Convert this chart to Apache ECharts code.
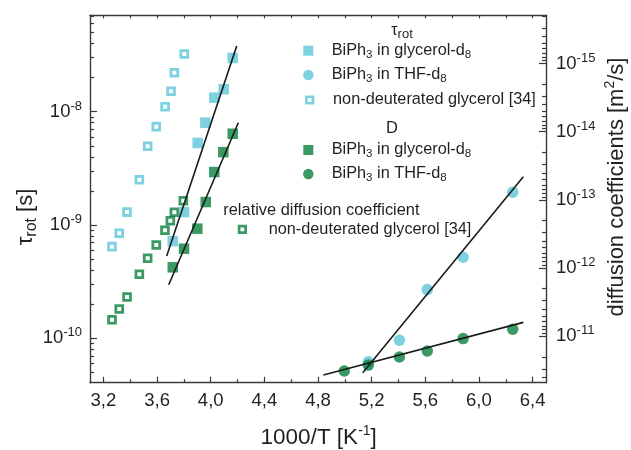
<!DOCTYPE html>
<html>
<head>
<meta charset="utf-8">
<script src="https://cdn.jsdelivr.net/npm/echarts@6/dist/echarts.min.js"></script>
<style>
  html, body { margin: 0; padding: 0; background: #ffffff; }
  #chart { width: 631px; height: 450px; }
</style>
</head>
<body>
<div id="chart"></div>
<script>
// ---- data: 1000/T [1/K] and values ----
// rotational correlation times tau_rot [s] (left axis)
const tauGlyX = [3.717, 3.801, 3.903, 3.960, 4.027, 4.097, 4.164];
const tauGlyY = [7.2e-10, 1.30e-9, 5.3e-9, 8.0e-9, 1.33e-8, 1.58e-8, 2.98e-8];
const tauThfX = [5.175, 5.407, 5.615, 5.882, 6.252];
const tauThfY = [6.2e-11, 9.6e-11, 2.69e-10, 5.19e-10, 1.95e-9];
const tauNonX = [3.264, 3.318, 3.376, 3.468, 3.530, 3.594, 3.660, 3.704, 3.729, 3.803];
const tauNonY = [6.44e-10, 8.45e-10, 1.30e-9, 2.51e-9, 4.95e-9, 7.38e-9, 1.107e-8, 1.514e-8, 2.21e-8, 3.23e-8];

// diffusion coefficients D [m^2/s] (right axis, inverted)
const dGlyX = [3.717, 3.801, 3.900, 3.963, 4.027, 4.094, 4.164];
const dGlyY = [9.73e-13, 5.19e-13, 2.64e-13, 1.074e-13, 3.90e-14, 1.99e-14, 1.07e-14];
const dThfX = [4.996, 5.175, 5.407, 5.615, 5.882, 6.252];
const dThfY = [3.23e-11, 2.64e-11, 2.01e-11, 1.64e-11, 1.08e-11, 7.88e-12];
const dRelX = [3.264, 3.318, 3.376, 3.468, 3.530, 3.594, 3.659, 3.699, 3.729, 3.796];
const dRelY = [5.71e-12, 3.98e-12, 2.65e-12, 1.23e-12, 7.18e-13, 4.58e-13, 2.79e-13, 2.02e-13, 1.52e-13, 1.03e-13];

// Arrhenius fit lines (end points)
const fitTauGlyX = [3.672, 4.194];
const fitTauGlyY = [5.33e-10, 3.80e-8];
const fitDGlyX = [3.687, 4.206];
const fitDGlyY = [1.75e-12, 7.38e-15];
const fitTauThfX = [5.134, 6.331];
const fitTauThfY = [4.97e-11, 2.67e-9];
const fitDThfX = [4.840, 6.331];
const fitDThfY = [3.69e-11, 6.24e-12];

// axis ticks
const xMajor = [3.2, 3.6, 4.0, 4.4, 4.8, 5.2, 5.6, 6.0, 6.4];
const xMinor = [3.4, 3.8, 4.2, 4.6, 5.0, 5.4, 5.8, 6.2];
const xTop = [3.2, 3.4, 3.6, 3.8, 4.0, 4.2, 4.4, 4.6, 4.8, 5.0, 5.2, 5.4, 5.6, 5.8, 6.0, 6.2, 6.4];
const tauExponents = [-10, -9, -8];
const dExponents = [-15, -14, -13, -12, -11];

const CYAN = '#5ec5da';
const GREEN = '#0a7f3d';
const INK = '#231f20';
const AXIS = '#3a3a3a';
const FONT = "'Liberation Sans', Arial, sans-serif";

const tauMin = Math.pow(10, -10.392), tauMax = Math.pow(10, -7.149);
const dMin = Math.pow(10, -15.707), dMax = Math.pow(10, -10.32);

function zip(xs, ys) { return xs.map((x, i) => [x, ys[i]]); }
function minorLog(lo, hi, eFrom, eTo) {
  const out = [];
  for (let e = eFrom; e <= eTo; e++) {
    for (let m = 2; m <= 9; m++) {
      const v = m * Math.pow(10, e);
      if (v >= lo && v <= hi) out.push(v);
    }
  }
  return out;
}
const pow10 = e => Math.pow(10, e);

const tickLabelRich = {
  b: { fontSize: 18.5, fontFamily: FONT, color: INK, lineHeight: 24 },
  s: { fontSize: 13, fontFamily: FONT, color: INK, verticalAlign: 'top', lineHeight: 14 }
};
const expFormatter = v => '{b|10}{s|' + Math.round(Math.log10(v)) + '}';

const legendRich = {
  s: { fontSize: 11.5, fontFamily: FONT, color: INK, verticalAlign: 'bottom', lineHeight: 11 }
};
const legendText = {
  tauGly: 'BiPh{s|3} in glycerol-d{s|8}',
  tauThf: 'BiPh{s|3} in THF-d{s|8}',
  tauNon: 'non-deuterated glycerol [34]',
  dGly: 'BiPh{s|3} in glycerol-d{s|8}',
  dThf: 'BiPh{s|3} in THF-d{s|8}',
  dRel: 'non-deuterated glycerol [34]'
};
function legendItem(name, cx, cy, size, textX, itemStyle, icon) {
  const left = cx - size / 2;
  const pad = textX - (left + size + 5);
  return {
    data: [{ name: name, icon: icon, itemStyle: itemStyle }],
    left: left, top: cy - 10,
    padding: 0,
    itemWidth: size, itemHeight: size,
    selectedMode: false,
    formatter: n => legendText[n],
    textStyle: {
      fontSize: 16.3, fontFamily: FONT, color: INK, lineHeight: 20,
      padding: [0, 0, 0, pad], rich: legendRich
    }
  };
}

const chart = echarts.init(document.getElementById('chart'), null, { renderer: 'canvas' });

const lineStyle = { color: '#1a1a1a', width: 1.6 };
function fitSeries(xs, ys, yIdx) {
  return {
    type: 'line', data: zip(xs, ys), yAxisIndex: yIdx, symbol: 'none',
    lineStyle: lineStyle, silent: true, z: 5, animation: false
  };
}

const option = {
  animation: false,
  backgroundColor: '#ffffff',
  grid: { left: 90, right: 85, top: 15.3, bottom: 67.3, containLabel: false },
  xAxis: [
    {
      type: 'value', position: 'bottom', min: 3.1, max: 6.5,
      axisLine: { lineStyle: { color: AXIS, width: 1.4 } },
      axisTick: { inside: true, length: 6, customValues: xMajor, lineStyle: { color: AXIS, width: 1.2 } },
      axisLabel: {
        customValues: xMajor, margin: 9, fontSize: 18.5, fontFamily: FONT, color: INK,
        formatter: v => v.toFixed(1).replace('.', ',')
      },
      splitLine: { show: false }
    },
    {
      type: 'value', position: 'bottom', min: 3.1, max: 6.5,
      axisLine: { show: false },
      axisTick: { inside: true, length: 3.5, customValues: xMinor, lineStyle: { color: AXIS, width: 1.2 } },
      axisLabel: { show: false },
      splitLine: { show: false }
    },
    {
      type: 'value', position: 'top', min: 3.1, max: 6.5,
      axisLine: { lineStyle: { color: AXIS, width: 1.4 } },
      axisTick: { inside: true, length: 3, customValues: xTop, lineStyle: { color: AXIS, width: 1.2 } },
      axisLabel: { show: false },
      splitLine: { show: false }
    }
  ],
  yAxis: [
    {
      type: 'log', logBase: 10, position: 'left', min: tauMin, max: tauMax,
      axisLine: { show: true, lineStyle: { color: AXIS, width: 1.4 } },
      axisTick: { inside: true, length: 7, customValues: tauExponents.map(pow10), lineStyle: { color: AXIS, width: 1.2 } },
      axisLabel: { customValues: tauExponents.map(pow10), margin: 8, formatter: expFormatter, rich: tickLabelRich },
      splitLine: { show: false }
    },
    {
      type: 'log', logBase: 10, position: 'left', min: tauMin, max: tauMax,
      axisLine: { show: false },
      axisTick: { inside: true, length: 4, customValues: minorLog(tauMin, tauMax, -11, -8), lineStyle: { color: AXIS, width: 1.2 } },
      axisLabel: { show: false },
      splitLine: { show: false }
    },
    {
      type: 'log', logBase: 10, position: 'right', inverse: true, min: dMin, max: dMax,
      axisLine: { show: true, lineStyle: { color: AXIS, width: 1.4 } },
      axisTick: { inside: true, length: 7, customValues: dExponents.map(pow10), lineStyle: { color: AXIS, width: 1.2 } },
      axisLabel: { customValues: dExponents.map(pow10), margin: 10, formatter: expFormatter, rich: tickLabelRich },
      splitLine: { show: false }
    },
    {
      type: 'log', logBase: 10, position: 'right', inverse: true, min: dMin, max: dMax,
      axisLine: { show: false },
      axisTick: { inside: true, length: 4, customValues: minorLog(dMin, dMax, -16, -11), lineStyle: { color: AXIS, width: 1.2 } },
      axisLabel: { show: false },
      splitLine: { show: false }
    }
  ],
  legend: [
    legendItem('tauGly', 308.3, 50.7, 10, 331.7, { color: CYAN }, 'rect'),
    legendItem('tauThf', 308.3, 75, 10.5, 331.7, { color: CYAN }, 'circle'),
    legendItem('tauNon', 308.3, 100, 6.5, 331.7, { color: '#ffffff', borderColor: CYAN, borderWidth: 2.7 }, 'rect'),
    legendItem('dGly', 308.3, 150, 10, 331.7, { color: GREEN }, 'rect'),
    legendItem('dThf', 308.3, 174, 10.5, 331.7, { color: GREEN }, 'circle'),
    legendItem('dRel', 241, 229.3, 6.5, 267.3, { color: '#ffffff', borderColor: GREEN, borderWidth: 2.7 }, 'rect')
  ],
  graphic: [
    {
      type: 'text', x: 402, y: 31, silent: true,
      style: {
        text: '{t|τ}{s|rot}', align: 'center', verticalAlign: 'middle',
        rich: {
          t: { fontSize: 16, fontFamily: FONT, fill: INK, lineHeight: 20 },
          s: { fontSize: 13, fontFamily: FONT, fill: INK, verticalAlign: 'bottom', lineHeight: 13 }
        }
      }
    },
    {
      type: 'text', x: 392, y: 128.3, silent: true,
      style: { text: 'D', fontSize: 16.5, fontFamily: FONT, fill: INK, align: 'center', verticalAlign: 'middle' }
    },
    {
      type: 'text', x: 223.3, y: 210, silent: true,
      style: { text: 'relative diffusion coefficient', fontSize: 16.4, fontFamily: FONT, fill: INK, align: 'left', verticalAlign: 'middle' }
    },
    {
      type: 'text', x: 318.7, y: 438, silent: true,
      style: {
        text: '{t|1000/T [K}{s|-1}{t|]}', align: 'center', verticalAlign: 'middle',
        rich: {
          t: { fontSize: 22.5, fontFamily: FONT, fill: INK, lineHeight: 28 },
          s: { fontSize: 14, fontFamily: FONT, fill: INK, verticalAlign: 'top', lineHeight: 16 }
        }
      }
    },
    {
      type: 'text', x: 26, y: 217, rotation: Math.PI / 2, silent: true,
      style: {
        text: '{t|τ}{s|rot}{t| [s]}', align: 'center', verticalAlign: 'middle',
        rich: {
          t: { fontSize: 22, fontFamily: FONT, fill: INK, lineHeight: 28 },
          s: { fontSize: 16, fontFamily: FONT, fill: INK, verticalAlign: 'bottom', lineHeight: 16 }
        }
      }
    },
    {
      type: 'text', x: 617, y: 187, rotation: Math.PI / 2, silent: true,
      style: {
        text: '{t|diffusion coefficients [m}{s|2}{t|/s]}', align: 'center', verticalAlign: 'middle',
        rich: {
          t: { fontSize: 22, fontFamily: FONT, fill: INK, lineHeight: 28 },
          s: { fontSize: 14, fontFamily: FONT, fill: INK, verticalAlign: 'top', lineHeight: 16 }
        }
      }
    }
  ],
  series: [
    {
      name: 'tauNon', type: 'scatter', data: zip(tauNonX, tauNonY), yAxisIndex: 0,
      symbol: 'rect', symbolSize: 6.8,
      itemStyle: { color: '#ffffff', borderColor: CYAN, borderWidth: 2.8 }
    },
    {
      name: 'dRel', type: 'scatter', data: zip(dRelX, dRelY), yAxisIndex: 2,
      symbol: 'rect', symbolSize: 6.8,
      itemStyle: { color: '#ffffff', borderColor: GREEN, borderWidth: 2.8 }
    },
    {
      name: 'tauGly', type: 'scatter', data: zip(tauGlyX, tauGlyY), yAxisIndex: 0,
      symbol: 'rect', symbolSize: 10.5, itemStyle: { color: CYAN }
    },
    {
      name: 'dGly', type: 'scatter', data: zip(dGlyX, dGlyY), yAxisIndex: 2,
      symbol: 'rect', symbolSize: 10.5, itemStyle: { color: GREEN }
    },
    {
      name: 'tauThf', type: 'scatter', data: zip(tauThfX, tauThfY), yAxisIndex: 0,
      symbol: 'circle', symbolSize: 11.5, itemStyle: { color: CYAN }
    },
    {
      name: 'dThf', type: 'scatter', data: zip(dThfX, dThfY), yAxisIndex: 2,
      symbol: 'circle', symbolSize: 11.5, itemStyle: { color: GREEN }
    },
    fitSeries(fitTauGlyX, fitTauGlyY, 0),
    fitSeries(fitDGlyX, fitDGlyY, 2),
    fitSeries(fitTauThfX, fitTauThfY, 0),
    fitSeries(fitDThfX, fitDThfY, 2)
  ]
};

chart.setOption(option);
</script>
</body>
</html>
